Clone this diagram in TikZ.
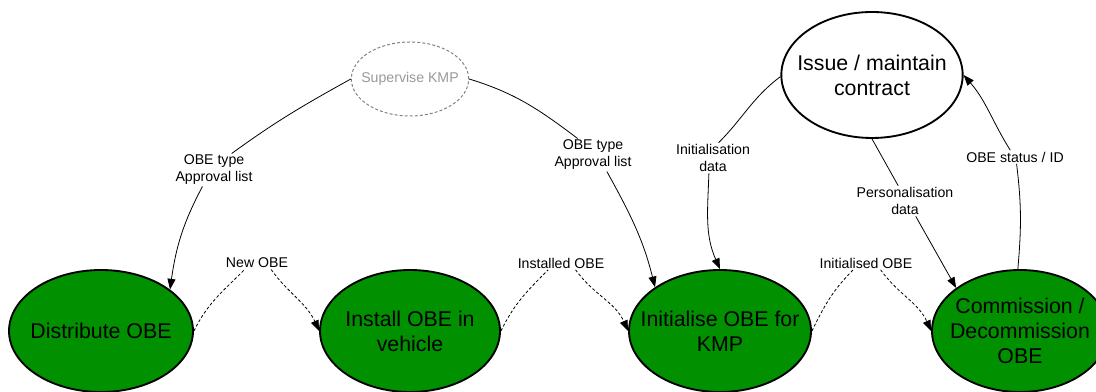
\documentclass[tikz,border=0pt]{standalone}
\usepackage{fontspec}
\setmainfont{Liberation Sans}
\usetikzlibrary{arrows.meta,shapes.geometric}
\definecolor{obegreen}{RGB}{0,144,0}
\begin{document}
\begin{tikzpicture}[x=0.75pt, y=0.75pt, line join=round,
	proc/.style={ellipse, draw, line width=1.4pt, inner xsep=-30pt, inner ysep=0pt, align=center,
		minimum height=91.5pt, font=\fontsize{16}{18.75}\selectfont},
	lbl/.style={inner sep=1pt, align=center, font=\fontsize{10.6}{12.75}\selectfont},
	flow/.style={line width=0.6pt, -{Triangle[length=8pt,width=6pt]}},
	dflow/.style={flow, dash pattern=on 2.2pt off 1.6pt}]
		\useasboundingbox (0,0) rectangle (1096,392);
		\clip (0,0) rectangle (1096,392);
		% processes
		\node[proc, fill=obegreen, minimum width=138pt] (dist) at (101,61) {Distribute OBE};
		\node[proc, fill=obegreen, minimum width=135pt] (inst) at (410,61) {Install OBE in\\vehicle};
		\node[proc, fill=obegreen, minimum width=136.5pt] (init) at (720,61) {Initialise OBE for\\KMP};
		\node[proc, fill=obegreen, minimum width=132pt] (comm) at (1020,61) {Commission /\\Decommission\\OBE};
		\node[proc, minimum width=136pt, minimum height=94.5pt] (iss) at (872,317) {Issue / maintain\\contract};
		\node[ellipse, draw=black!50, text=black!40, line width=0.75pt, dash pattern=on 2.2pt off 1.6pt,
			inner xsep=-20pt, inner ysep=0pt, minimum width=88pt, minimum height=55.5pt,
			font=\fontsize{10.6}{12.75}\selectfont] (sup) at (410,313) {Supervise KMP};
		% labels
		\node[lbl] (l1) at (214,222) {OBE type\\Approval list};
		\node[lbl] (l2) at (593,237) {OBE type\\Approval list};
		\node[lbl] (l3) at (713,234) {Initialisation\\data};
		\node[lbl] (l4) at (905,191) {Personalisation\\data};
		\node[lbl] (l5) at (1015,235) {OBE status / ID};
		\node[lbl] (l6) at (257,129) {New OBE};
		\node[lbl] (l7) at (561,129) {Installed OBE};
		\node[lbl] (l8) at (866,129) {Initialised OBE};
		% flows
		\draw[flow] (sup.west) to[out=209,in=36] (l1.43) (l1.235) to[out=242,in=82] (dist.31);
		\draw[flow] (sup.east) to[out=-17,in=143] (l2.133) (l2.-50) to[out=-61,in=104] (init.146);
		\draw[flow] (iss.181) to[out=217,in=45] (l3.70) (l3.255) to[out=268,in=114] (init.north);
		\draw[flow] (iss.south) -- (l4.114) (l4.-55) -- (comm.146);
		\draw[flow] (comm.92) to[out=85,in=-83] (l5.-77) (l5.125) to[out=122,in=311] (iss.east);
		\foreach \a/\l/\b in {dist/l6/inst, inst/l7/init, init/l8/comm}
			\draw[dflow] (\a.east) to[out=64,in=225] (\l.208) (\l.335) to[out=-54,in=114] (\b.west);
\end{tikzpicture}
\end{document}
